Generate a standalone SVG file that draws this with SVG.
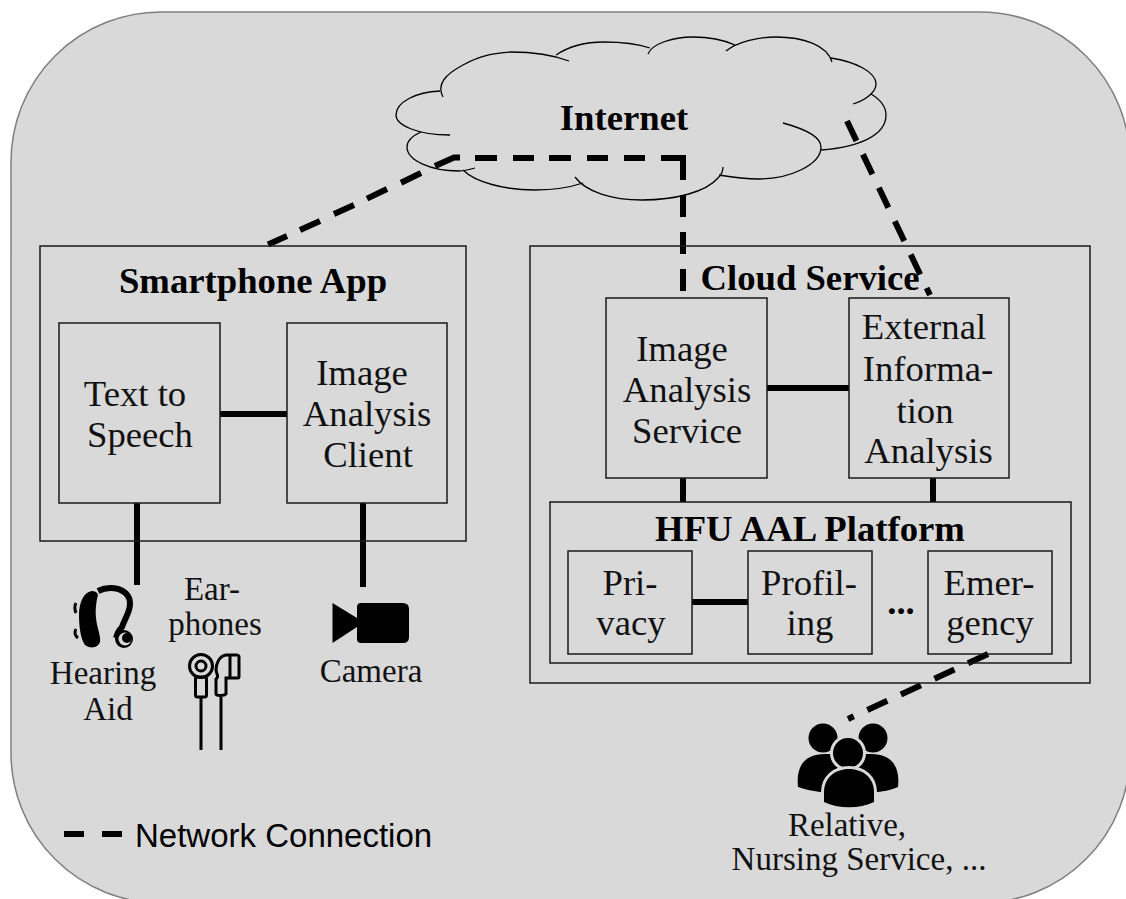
<svg xmlns="http://www.w3.org/2000/svg" width="1126" height="899" viewBox="0 0 1126 899">
<style>
.bg{fill:#d9d9d9;stroke:#7f7f7f;stroke-width:1.5}
.box{fill:none;stroke:#1a1a1a;stroke-width:1.5}
.cl{fill:none;stroke:#000;stroke-width:1.3}
.t{font-family:"Liberation Serif",serif;font-size:36.7px;fill:#111;text-anchor:middle}
.l{font-size:33px}
.b{font-weight:bold;fill:#000}
.s{font-family:"Liberation Sans",sans-serif;font-size:33px;fill:#000}
.solid{stroke:#000;stroke-width:6;fill:none}
.dash{stroke:#000;stroke-width:6;fill:none;stroke-dasharray:22 15}
.thin{fill:none;stroke:#000;stroke-width:3}
.halo{stroke:#d9d9d9;stroke-width:6;paint-order:stroke}
</style>
<rect class="bg" x="11" y="12" width="1119" height="891" rx="150" ry="150"/>
<g id="internet">
<path class="cl" d="M443 97C436 84 446 74 463 65C481 55 495 53 511 52C533 52 553 55 569 61M556 55C568 47 586 42 604 42C620 42 638 44 650 48M648 54C652 44 672 37 693 37C710 37 726 41 735 45M726 51C737 42 758 37 776 37C803 37 827 45 832 62M831 58C856 62 876 72 876 84C876 92 866 100 853 104M871 94C881 100 886 107 886 115C886 135 860 147 821 150M783 123C805 129 821 137 821 147C821 165 789 179 759 179C745 179 731 177 719 175M723 167C723 172 720 176 718 178C706 192 675 200 642 200C612 200 586 192 575 177M583 183C568 188 553 190 535 190C504 190 475 182 463 170M475 168C468 170 463 171 459 171C430 171 407 160 407 147C407 141 412 136 421 132M450 135C417 135 396 125 396 115C396 102 416 92 440 91"/>
<text class="t b" x="624" y="130">Internet</text>
</g>
<g id="connectors">
<path class="solid" d="M268 244.500L287 236M300 230L320 221M334 214L354 205M367 198.600L387 189M401 182.700L421 173M435 166L454 157.500H460M475 158H497M513 158H534M549 158H571M587 158H608M624 158H645M661 158H683V180M683 195V217M683 232V254M683 269V291"/>
<path class="dash" d="M847 121L930 295"/>
<path class="dash" d="M988 654L848 719"/>
<path class="solid" d="M220 414H287M767 388H849M683 478V502M933 478V502M692 602H748M137 503V585M363 503V587"/>
</g>
<g id="smartphone-app">
<rect class="box" x="40" y="246" width="426" height="295"/>
<text class="t b" x="253" y="293">Smartphone App</text>
</g>
<g id="text-to-speech">
<rect class="box" x="59" y="323" width="161" height="180"/>
<text class="t" x="135" y="406">Text to</text><text class="t" x="140" y="447">Speech</text>
</g>
<g id="image-analysis-client">
<rect class="box" x="287" y="323" width="160" height="180"/>
<text class="t" x="362" y="385">Image</text><text class="t" x="367" y="426">Analysis</text><text class="t" x="368" y="467">Client</text>
</g>
<g id="cloud-service">
<rect class="box" x="530" y="246" width="560" height="437"/>
<text class="t b" x="810" y="290">Cloud Service</text>
</g>
<g id="image-analysis-service">
<rect class="box" x="606" y="298" width="161" height="180"/>
<text class="t" x="682" y="361">Image</text><text class="t" x="687" y="402">Analysis</text><text class="t" x="687" y="443">Service</text>
</g>
<g id="external-information">
<rect class="box" x="849" y="298" width="160" height="180"/>
<text class="t" x="924" y="339">External</text><text class="t" x="928" y="381">Informa-</text><text class="t" x="925" y="423">tion</text><text class="t" x="928.500" y="463">Analysis</text>
</g>
<g id="hfu-platform">
<rect class="box" x="550" y="502" width="521" height="161"/>
<text class="t b" x="810" y="540.500">HFU AAL Platform</text>
</g>
<g id="privacy">
<rect class="box" x="568" y="551" width="124" height="103"/>
<text class="t" x="630" y="595">Pri-</text><text class="t" x="631" y="635">vacy</text>
</g>
<g id="profiling">
<rect class="box" x="748" y="551" width="124" height="103"/>
<text class="t" x="809" y="595">Profil-</text><text class="t" x="810" y="635">ing</text>
</g>
<text class="t b" x="901" y="614">...</text>
<g id="emergency">
<rect class="box" x="928" y="551" width="124" height="103"/>
<text class="t" x="989" y="595">Emer-</text><text class="t" x="990" y="635">gency</text>
</g>
<g id="hearing-aid">
<path d="M92 591C84 592 79 602 79 615C79 628 81 640 85 645C90 649 98 648 100 642C101 636 97 628 96 618C95 608 97 598 98 595C97 592 95 591 92 591Z"/>
<path d="M98 591C108 586 122 587 128 596C134 606 125 618 122 627C119 630 117 634 116 638" fill="none" stroke="#000" stroke-width="6"/>
<circle cx="124" cy="639" r="9"/><circle cx="125" cy="639" r="6.500" fill="#d9d9d9"/><circle cx="127" cy="638" r="5"/>
<path d="M76 603C74 606 75 611 76 613M76 629C74 632 75 636 78 638" fill="none" stroke="#000" stroke-width="3"/>
<text class="t l" x="103" y="684">Hearing</text><text class="t l" x="108" y="720">Aid</text>
</g>
<g id="earphones">
<text class="t l" x="212" y="600">Ear-</text><text class="t l" x="215" y="635">phones</text>
<circle class="thin" cx="201" cy="666" r="11.500"/><circle class="thin" cx="201" cy="666" r="5"/>
<rect class="thin" x="195.500" y="677" width="11" height="20" rx="2"/>
<path class="thin" d="M201 697V750M221 697V750"/>
<path class="thin" d="M230 655H226C219 656 216 664 216 670C217 675 219 677 216 679V694C216 696 224 696 226 694V678H238C239 678 239 677 239 676V657C239 655 238 655 236 655ZM230 655V677"/>
</g>
<g id="camera">
<path d="M332.500 603L357 618V607Q357 603 361 603H403Q409 603 409 609V637Q409 643 403 643H361Q357 643 357 639V627L332.500 643Z"/>
<text class="t l" x="371" y="682">Camera</text>
</g>
<g id="relatives">
<circle cx="823" cy="738" r="14.500"/><circle cx="873" cy="738" r="14.500"/>
<path d="M798 787C796 768 803 754 825 754H871C893 754 900 768 898 787C892 790 880 792 875 792H820C812 791 804 789 798 787Z"/>
<circle class="halo" cx="848" cy="753" r="15"/>
<path class="halo" d="M824 802V792C824 778 835 769 849 769C863 769 874 778 874 792V802C860 809 838 809 824 802Z"/>
<text class="t l" x="847" y="836">Relative,</text><text class="t l" x="859" y="870">Nursing Service, ...</text>
</g>
<g id="legend">
<path class="solid" d="M64 834H84M102 834H122"/>
<text class="s" x="135" y="847">Network Connection</text>
</g>
</svg>
